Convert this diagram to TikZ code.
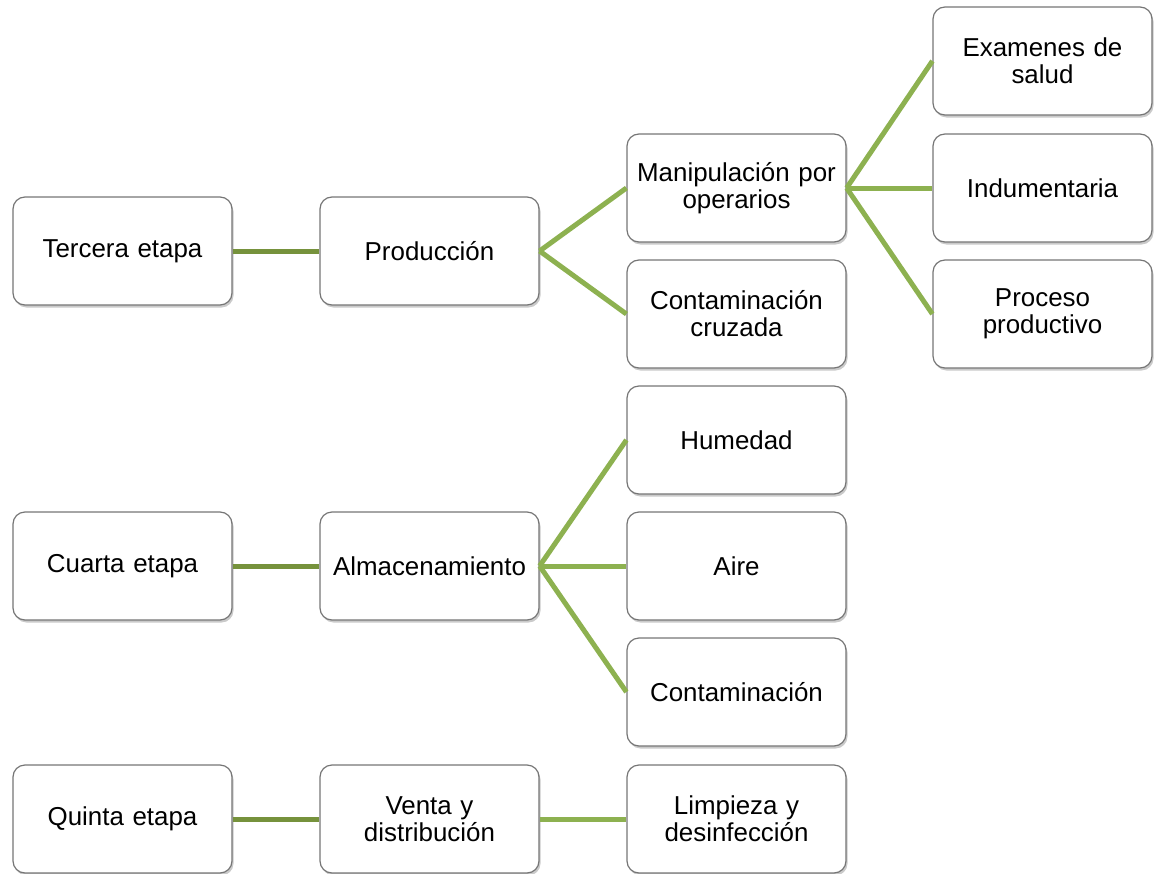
\documentclass[tikz,border=0pt]{standalone}
\usepackage{fontspec}
\setmainfont{Liberation Sans}
\usetikzlibrary{shadows}
\definecolor{boxline}{HTML}{767676}
\definecolor{linkA}{HTML}{76923C}
\definecolor{linkB}{HTML}{8DB150}
\begin{document}
\begin{tikzpicture}[x=1bp,y=-1bp,
  stagebox/.style={draw=boxline, line width=1.2bp, fill=white, rounded corners=12bp,
    minimum width=219bp, minimum height=108bp, inner sep=2bp, align=center,
    text width=215bp, font=\fontsize{26}{27}\selectfont,
    drop shadow={shadow xshift=1.5bp, shadow yshift=-2.5bp, opacity=0.35, fill=black!60}},
  linkone/.style={draw=linkA, line width=5bp},
  linktwo/.style={draw=linkB, line width=5bp}]
\useasboundingbox (0,0) rectangle (1155,874);
% columns at x = 122.5, 429.5, 736.5, 1042.5
\node[stagebox] (t3) at (122.5,251) {Tercera etapa};
\node[stagebox] (prod) at (429.5,251) {Producción};
\node[stagebox] (manip) at (736.5,188) {Manipulación por\\operarios};
\node[stagebox] (cruz) at (736.5,314) {Contaminación\\cruzada};
\node[stagebox] (exam) at (1042.5,61) {Examenes de\\salud};
\node[stagebox] (indu) at (1042.5,188) {Indumentaria};
\node[stagebox] (proc) at (1042.5,314) {Proceso\\productivo};

\node[stagebox] (t4) at (122.5,566) {Cuarta etapa};
\node[stagebox] (alm) at (429.5,566) {Almacenamiento};
\node[stagebox] (hum) at (736.5,440) {Humedad};
\node[stagebox] (aire) at (736.5,566) {Aire};
\node[stagebox] (cont) at (736.5,692) {Contaminación};

\node[stagebox] (t5) at (122.5,819) {Quinta etapa};
\node[stagebox] (venta) at (429.5,819) {Venta y\\distribución};
\node[stagebox] (limp) at (736.5,819) {Limpieza y\\desinfección};

\draw[linkone] (t3.east) -- (prod.west);
\draw[linktwo] (prod.east) -- (manip.west);
\draw[linktwo] (prod.east) -- (cruz.west);
\draw[linktwo] (manip.east) -- (exam.west);
\draw[linktwo] (manip.east) -- (indu.west);
\draw[linktwo] (manip.east) -- (proc.west);

\draw[linkone] (t4.east) -- (alm.west);
\draw[linktwo] (alm.east) -- (hum.west);
\draw[linktwo] (alm.east) -- (aire.west);
\draw[linktwo] (alm.east) -- (cont.west);

\draw[linkone] (t5.east) -- (venta.west);
\draw[linktwo] (venta.east) -- (limp.west);
\end{tikzpicture}
\end{document}
